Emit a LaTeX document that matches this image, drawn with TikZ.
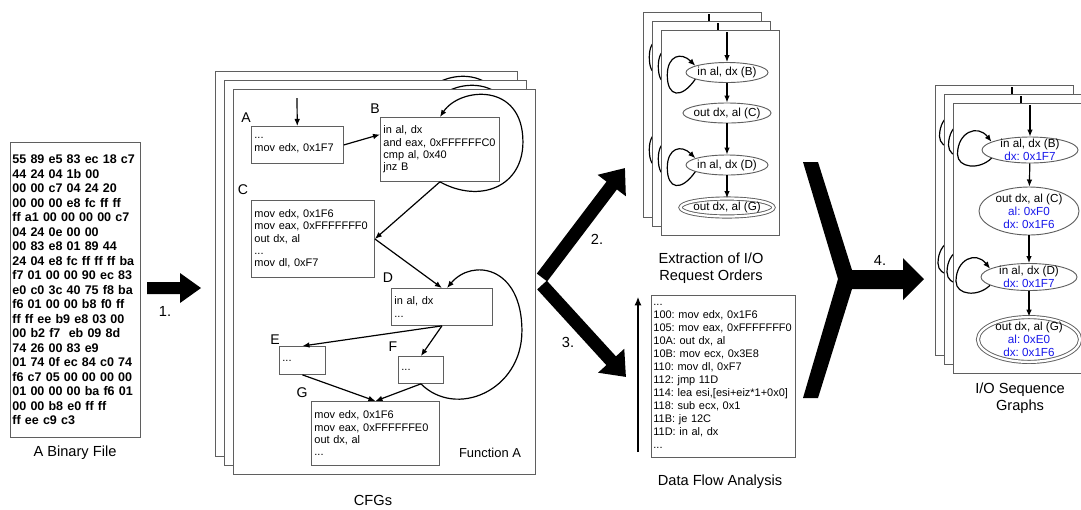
\documentclass[tikz,border=0pt]{standalone}
\usepackage{fontspec}
\setmainfont{Liberation Sans}
\usetikzlibrary{shapes.geometric, arrows.meta, positioning}
\frenchspacing

\definecolor{boxgray}{RGB}{95,95,95}
\definecolor{seqblue}{RGB}{25,25,235}

\newcommand{\codesize}{\fontsize{7.8}{8.8}\selectfont}
\newcommand{\dfasize}{\fontsize{7.8}{9.2}\selectfont}
\newcommand{\hexsize}{\fontsize{8.9}{10.3}\selectfont\bfseries}
\newcommand{\statesize}{\fontsize{8.3}{9.3}\selectfont}
\newcommand{\capsize}{\fontsize{10.4}{12.2}\selectfont}

\tikzset{
    frame/.style={draw=boxgray, fill=white, line width=0.6pt},
    codebox/.style={draw=boxgray, line width=0.6pt, anchor=north west, align=left,
        inner xsep=0.075cm, inner ysep=0pt, font=\codesize},
    blocklbl/.style={font=\fontsize{10}{12}\selectfont},
    flow/.style={-{Latex[length=5pt,width=4pt]}, line width=0.85pt},
    state/.style={ellipse, draw=boxgray, line width=0.65pt, inner sep=0pt},
    final/.style={state, double, double distance=1.6pt},
    statetext/.style={font=\statesize, align=center, inner sep=0pt},
    bigarrow/.style={line width=0.325cm, -{Triangle[length=0.55cm,width=0.85cm]}},
    caption/.style={font=\capsize, align=center},
    % copies lying behind: same shapes, no text
    ghost/.style={text width=1cm, align=left,
        execute at begin node={\setbox0=\vbox\bgroup},
        execute at end node={\egroup}},
}

% one control flow graph (front copy coordinates)
\newcommand{\cfgbody}{%
    \coordinate (cfg-in) at (297,98);
    \node[codebox, text width=2.15cm, minimum height=0.925cm] (A) at (251,126) {...\\mov edx, 0x1F7};
    \node[codebox, text width=2.825cm, minimum height=1.6cm] (B) at (380,117) {in al, dx\\and eax, 0xFFFFFFC0\\cmp al, 0x40\\jnz B};
    \node[codebox, text width=2.925cm, minimum height=1.925cm] (C) at (251,200) {mov edx, 0x1F6\\mov eax, 0xFFFFFFF0\\out dx, al\\...\\mov dl, 0xF7};
    \node[codebox, text width=2.375cm, minimum height=0.925cm] (D) at (391,288) {in al, dx\\...};
    \node[codebox, text width=1.0cm, minimum height=0.7cm] (E) at (279,346) {...};
    \node[codebox, text width=0.975cm, minimum height=0.675cm] (F) at (398,356) {...};
    \node[codebox, text width=3.05cm, minimum height=1.6cm] (G) at (311,401) {mov edx, 0x1F6\\mov eax, 0xFFFFFFE0\\out dx, al\\...};
    \node[blocklbl] (A-l) at (246,118) {A};
    \node[blocklbl] (B-l) at (375,109) {B};
    \node[blocklbl] (C-l) at (243,190) {C};
    \node[blocklbl] (D-l) at (388,278) {D};
    \node[blocklbl] (E-l) at (275,340) {E};
    \node[blocklbl] (F-l) at (393,347) {F};
    \node[blocklbl] (G-l) at (302,393) {G};
    \node[font=\fontsize{9.2}{11}\selectfont] (fn) at (490,453) {Function A};
    \draw[flow] (cfg-in) -- (A);
    \draw[flow] (A.east) -- (B.166);
    \draw[flow] (B.south) -- (C.east);
    \draw[flow] (B.south) .. controls +(40,22) and +(0,45) .. ++(83,-40) .. controls +(0,-60) and +(20,-30) .. (B.north);
    \draw[flow] (C.east) -- (D.north);
    \draw[flow] (D.south) -- (E.north);
    \draw[flow] (D.south) -- (F.north);
    \draw[flow] (E.south) -- (G.north);
    \draw[flow] (F.south) -- (G.north);
    \draw[flow] (F.south) .. controls +(35,35) and +(0,60) .. ++(101,-53) .. controls +(0,-65) and +(25,-30) .. (D.75);
}

% order of I/O requests
\newcommand{\orderbody}{%
    \coordinate (o-in) at (727,32);
    \node[state, minimum width=2.05cm, minimum height=0.5cm] (oB) at (727,72.5) {};
    \node[state, minimum width=2.2cm, minimum height=0.5cm] (oC) at (727,113) {};
    \node[state, minimum width=2.05cm, minimum height=0.5cm] (oD) at (727,165) {};
    \node[final, minimum width=2.325cm, minimum height=0.45cm] (oG) at (727,207.5) {};
    \node[statetext] (oB-t) at (oB) {in al, dx (B)};
    \node[statetext] (oC-t) at (oC) {out dx, al (C)};
    \node[statetext] (oD-t) at (oD) {in al, dx (D)};
    \node[statetext] (oG-t) at (oG) {out dx, al (G)};
    \draw[flow] (o-in) -- (oB);
    \draw[flow] (oB) -- (oC);
    \draw[flow] (oC) -- (oD);
    \draw[flow] (oD) -- (oG);
    \draw[flow] (oB.192) .. controls +(-14,20) and +(0,22) .. ++(-28,-4) .. controls +(0,-20) and +(-14,-14) .. (oB.168);
    \draw[flow] (oD.192) .. controls +(-14,20) and +(0,22) .. ++(-28,-4) .. controls +(0,-20) and +(-14,-14) .. (oD.168);
}

% I/O sequence graph
\newcommand{\seqbody}{%
    \coordinate (s-in) at (1030,105);
    \node[state, minimum width=2.4cm, minimum height=0.65cm] (sB) at (1030,150) {};
    \node[state, minimum width=2.5cm, minimum height=1.2cm] (sC) at (1029,211) {};
    \node[state, minimum width=2.4cm, minimum height=0.675cm] (sD) at (1029,277) {};
    \node[final, minimum width=2.55cm, minimum height=1.12cm] (sG) at (1029,339.5) {};
    \node[statetext] (sB-t) at (sB) {in al, dx (B)\\\textcolor{seqblue}{dx: 0x1F7}};
    \node[statetext] (sC-t) at (sC) {out dx, al (C)\\\textcolor{seqblue}{al: 0xF0}\\\textcolor{seqblue}{dx: 0x1F6}};
    \node[statetext] (sD-t) at (sD) {in al, dx (D)\\\textcolor{seqblue}{dx: 0x1F7}};
    \node[statetext] (sG-t) at (sG) {out dx, al (G)\\\textcolor{seqblue}{al: 0xE0}\\\textcolor{seqblue}{dx: 0x1F6}};
    \draw[flow] (s-in) -- (sB);
    \draw[flow] (sB) -- (sC);
    \draw[flow] (sC) -- (sD);
    \draw[flow] (sD) -- (sG);
    \draw[flow] (sB.192) .. controls +(-12,12) and +(0,14) .. ++(-34,-4) .. controls +(0,-22) and +(-14,-18) .. (sB.168);
    \draw[flow] (sD.192) .. controls +(-12,12) and +(0,14) .. ++(-34,-4) .. controls +(0,-22) and +(-14,-18) .. (sD.168);
}

\begin{document}
\begin{tikzpicture}[x=0.025cm, y=-0.025cm]
    \useasboundingbox (0,0) rectangle (1081,509);
    \fill[white] (0,0) rectangle (1081,509);

    % the binary
    \node[draw=boxgray, line width=0.6pt, anchor=north west, align=left, text width=3.15cm,
        minimum height=7.375cm, inner xsep=0.05cm, inner ysep=0pt, font=\hexsize] (bin) at (10,142)
        {55 89 e5 83 ec 18 c7\\44 24 04 1b 00\\00 00 c7 04 24 20\\00 00 00 e8 fc ff ff\\ff a1 00 00 00 00 c7\\04 24 0e 00 00\\00 83 e8 01 89 44\\24 04 e8 fc ff ff ff ba\\f7 01 00 00 90 ec 83\\e0 c0 3c 40 75 f8 ba\\f6 01 00 00 b8 f0 ff\\ff ff ee b9 e8 03 00\\00 b2 f7 \ eb 09 8d\\74 26 00 83 e9\\01 74 0f ec 84 c0 74\\f6 c7 05 00 00 00 00\\01 00 00 00 ba f6 01\\00 00 b8 e0 ff ff\\ff ee c9 c3};
    \node[caption] (bin-c) at (75,453) {A Binary File};

    \fill (147,282) -- (180,282) -- (180,273) -- (201,288) -- (180,303) -- (180,294) -- (147,294) -- cycle;
    \node[caption] (s1) at (165,311) {1.};

    % CFGs
    \begin{scope}[shift={(-18,-18)}, every node/.append style={ghost}]
        \draw[frame] (233,89) rectangle (535,474);
        \cfgbody
    \end{scope}
    \begin{scope}[shift={(-9,-9)}, every node/.append style={ghost}]
        \draw[frame] (233,89) rectangle (535,474);
        \cfgbody
    \end{scope}
    \draw[frame] (233,89) rectangle (535,474);
    \cfgbody
    \node[caption] (cfg-c) at (373,500) {CFGs};

    \coordinate (t2) at (542,277.5);
    \coordinate (h2) at (625,168);
    \coordinate (t3) at (542,285);
    \coordinate (h3) at (626,377);
    \draw[bigarrow] (t2) -- (h2);
    \draw[bigarrow] (t3) -- (h3);
    \node[caption] (s2) at (597,239) {2.};
    \node[caption] (s3) at (568,342) {3.};

    % request orders
    \begin{scope}[shift={(-18,-18)}, every node/.append style={ghost}]
        \draw[frame] (661,30) rectangle (779,235);
        \orderbody
    \end{scope}
    \begin{scope}[shift={(-9,-9)}, every node/.append style={ghost}]
        \draw[frame] (661,30) rectangle (779,235);
        \orderbody
    \end{scope}
    \draw[frame] (661,30) rectangle (779,235);
    \orderbody
    \node[caption] (ord-c) at (711,268) {Extraction of I/O\\Request Orders};

    % data flow
    \node[draw=boxgray, line width=0.6pt, anchor=north west, align=left, text width=3.5cm,
        minimum height=4.05cm, inner xsep=0.05cm, inner ysep=0pt, font=\dfasize] (dfa) at (651,295)
        {...\\100: mov edx, 0x1F6\\105: mov eax, 0xFFFFFFF0\\10A: out dx, al\\10B: mov ecx, 0x3E8\\110: mov dl, 0xF7\\112: jmp 11D\\114: lea esi,[esi+eiz*1+0x0]\\118: sub ecx, 0x1\\11B: je 12C\\11D: in al, dx\\...};
    \coordinate (dfa-lo) at (638,452);
    \coordinate (dfa-hi) at (638,297);
    \draw[-{Latex[length=6pt,width=5pt]}, line width=0.75pt] (dfa-lo) -- (dfa-hi);
    \node[caption] (dfa-c) at (720,482) {Data Flow Analysis};

    \fill (803,162) -- (818,162) -- (852,270) -- (903,270) -- (903,258) -- (924,279) -- (903,300)
        -- (903,289) -- (852,289) -- (818,398) -- (803,398) -- (838,279) -- cycle;
    \node[caption] (s4) at (880,260) {4.};

    % I/O sequence graphs
    \begin{scope}[shift={(-18,-18)}, every node/.append style={ghost}]
        \draw[frame] (953,103) rectangle (1091,373);
        \seqbody
    \end{scope}
    \begin{scope}[shift={(-9,-9)}, every node/.append style={ghost}]
        \draw[frame] (953,103) rectangle (1091,373);
        \seqbody
    \end{scope}
    \draw[frame] (953,103) rectangle (1091,373);
    \seqbody
    \node[caption] (seq-c) at (1020,398) {I/O Sequence\\Graphs};
\end{tikzpicture}
\end{document}
